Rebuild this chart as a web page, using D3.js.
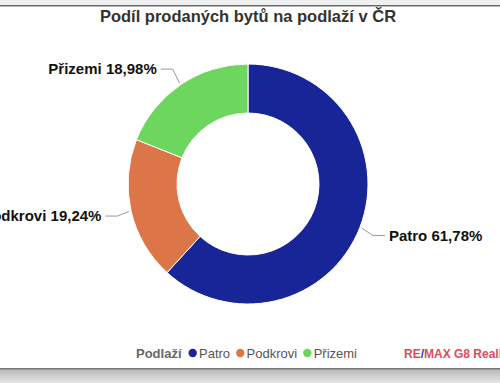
<!DOCTYPE html>
<html>
<head>
<meta charset="utf-8">
<script src="https://cdn.jsdelivr.net/npm/d3@7"></script>
<style>
  body { margin: 0; background: #fff; overflow: hidden; }
  svg { display: block; font-family: "Liberation Sans", Arial, sans-serif; }
</style>
</head>
<body>
<svg id="chart" width="500" height="383"></svg>
<script>
// data
const categories = ["Patro", "Podkrovi", "Přizemi"];
const shares = [61.78, 19.24, 18.98];
const colors = ["#182596", "#dc7548", "#6cd65f"];
const title = "Podíl prodaných bytů na podlaží v ČR";
const legendTitle = "Podlaží";

const W = 500, H = 383;
const svg = d3.select("#chart");

// frame: grey band on top, gradient below the card
const defs = svg.append("defs");
const grad = defs.append("linearGradient").attr("id", "bottomGrad")
    .attr("x1", 0).attr("y1", 0).attr("x2", 0).attr("y2", 1);
grad.append("stop").attr("offset", "0%").attr("stop-color", "#b8b8b8");
grad.append("stop").attr("offset", "100%").attr("stop-color", "#e4e4e4");

svg.append("rect").attr("x", 0).attr("y", 0).attr("width", W).attr("height", 5).attr("fill", "#f0f0f0");
svg.append("rect").attr("x", 0).attr("y", 5).attr("width", W).attr("height", 1.5).attr("fill", "#6a6a6a");
svg.append("rect").attr("x", 0).attr("y", 369).attr("width", W).attr("height", H - 369).attr("fill", "url(#bottomGrad)");
svg.append("rect").attr("x", 0).attr("y", 368).attr("width", W).attr("height", 1.5).attr("fill", "#777");

// title
svg.append("text")
    .attr("x", 248).attr("y", 22)
    .attr("text-anchor", "middle")
    .attr("font-size", 16.5).attr("font-weight", "bold")
    .attr("fill", "#333")
    .text(title);

// donut
const cx = 248, cy = 184, rOuter = 120, rInner = 71;
const g = svg.append("g").attr("transform", "translate(" + cx + "," + cy + ")");

const data = categories.map((c, i) => ({ name: c, value: shares[i], color: colors[i] }));
const pie = d3.pie().value(d => d.value).sort(null);
const arc = d3.arc().innerRadius(rInner).outerRadius(rOuter);
const arcs = pie(data);

g.selectAll("path.slice")
    .data(arcs)
    .enter()
    .append("path")
    .attr("class", "slice")
    .attr("d", arc)
    .attr("fill", d => d.data.color)
    .attr("stroke", "#fff")
    .attr("stroke-width", 1);

// labels with connectors
const fmt = v => v.toFixed(2).replace(".", ",") + "%";
arcs.forEach(d => {
  const a = (d.startAngle + d.endAngle) / 2;
  const p0 = [Math.sin(a) * (rOuter + 2), -Math.cos(a) * (rOuter + 2)];
  const right = Math.sin(a) > 0;
  // elbow point slightly out, then horizontal run
  const p1 = [Math.sin(a) * (rOuter + 14), -Math.cos(a) * (rOuter + 14)];
  let ly = p1[1];
  if (d.data.name === "Přizemi") ly = p1[1] - 4;
  if (d.data.name === "Podkrovi") ly = p1[1] + 2;
  if (d.data.name === "Patro") ly = p1[1] + 3;
  const p1b = [p1[0], ly];
  const p2 = [p1[0] + (right ? 12 : -12), ly];
  g.append("path")
      .attr("d", d3.line()([p0, p1b, p2]))
      .attr("fill", "none")
      .attr("stroke", "#999")
      .attr("stroke-width", 1);
  g.append("text")
      .attr("x", p2[0] + (right ? 4 : -4))
      .attr("y", ly)
      .attr("dy", "0.35em")
      .attr("text-anchor", right ? "start" : "end")
      .attr("font-size", 15).attr("font-weight", "bold")
      .attr("fill", "#111")
      .text(d.data.name + " " + fmt(d.data.value));
});

// legend
const legY = 353;
const leg = svg.append("g");
leg.append("text")
    .attr("x", 136).attr("y", legY).attr("dy", "0.35em")
    .attr("font-size", 13).attr("font-weight", "bold").attr("fill", "#666")
    .text(legendTitle);

let lx = 188.5;
data.forEach(d => {
  leg.append("circle").attr("cx", lx + 4.2).attr("cy", legY).attr("r", 4.2).attr("fill", d.color);
  const t = leg.append("text")
      .attr("x", lx + 10.5).attr("y", legY).attr("dy", "0.35em")
      .attr("font-size", 13).attr("fill", "#555")
      .text(d.name);
  lx += 10.5 + t.node().getComputedTextLength() + 6;
});

// credit, clipped at the right edge
const credit = svg.append("text")
    .attr("x", 404).attr("y", legY + 1).attr("dy", "0.35em")
    .attr("font-size", 12).attr("font-weight", "bold").attr("fill", "#dc4c5a");
credit.append("tspan").text("RE");
credit.append("tspan").attr("fill", "#1f3fa0").text("/");
credit.append("tspan").text("MAX G8 Reality");
</script>
</body>
</html>
